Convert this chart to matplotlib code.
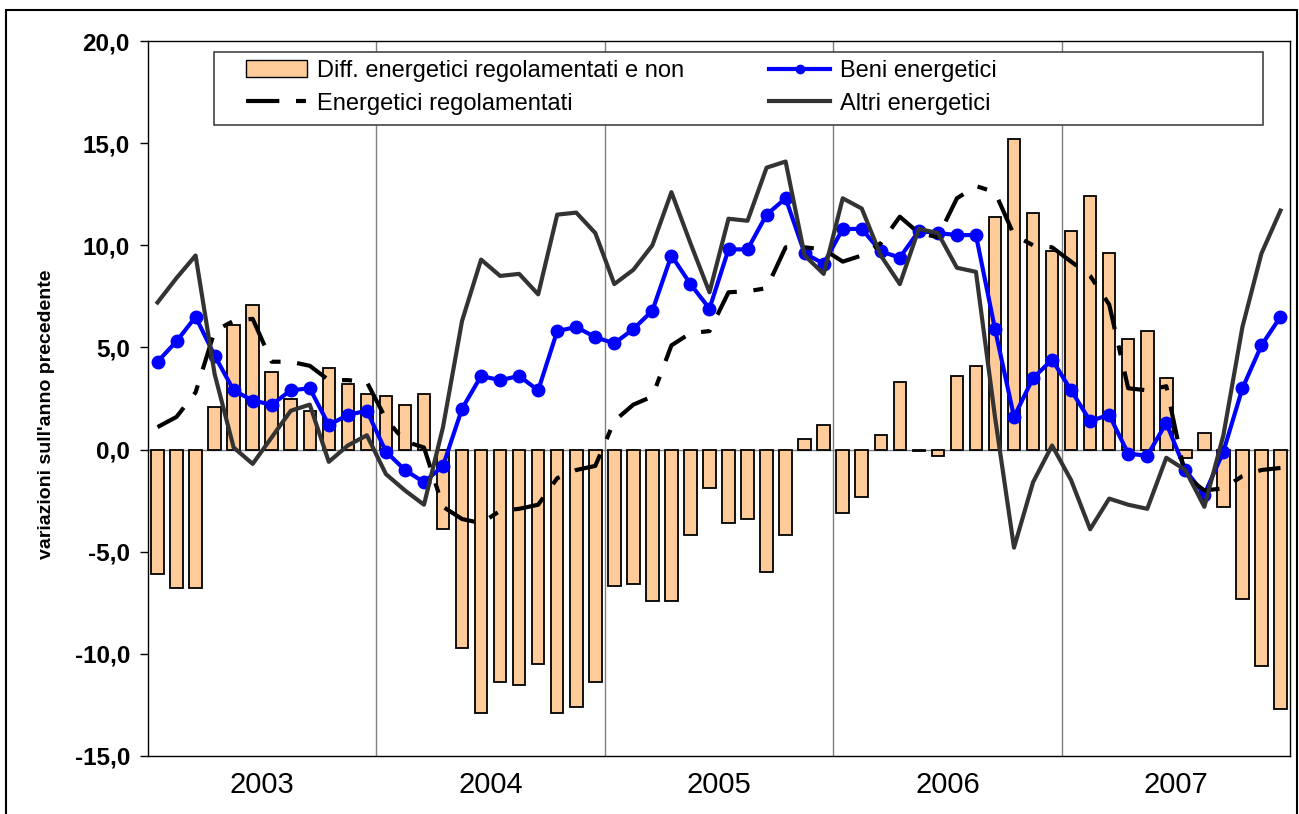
import numpy as np
import matplotlib
matplotlib.use('Agg')
import matplotlib.pyplot as plt
from matplotlib.patches import Rectangle, Patch
from matplotlib.lines import Line2D
from matplotlib.ticker import FuncFormatter, MultipleLocator

plt.rcParams['font.family'] = ['Liberation Sans', 'DejaVu Sans']

years = ['2003', '2004', '2005', '2006', '2007']

# differenza regolamentati - altri (barre), monthly 2003-2007
diff = [-6.1, -6.8, -6.8, 2.1, 6.1, 7.1, 3.8, 2.5, 1.9, 4.0, 3.2, 2.7,
        2.6, 2.2, 2.7, -3.9, -9.7, -12.9, -11.4, -11.5, -10.5, -12.9, -12.6, -11.4,
        -6.7, -6.6, -7.4, -7.4, -4.2, -1.9, -3.6, -3.4, -6.0, -4.2, 0.5, 1.2,
        -3.1, -2.3, 0.7, 3.3, -0.05, -0.3, 3.6, 4.1, 11.4, 15.2, 11.6, 9.7,
        10.7, 12.4, 9.6, 5.4, 5.8, 3.5, -0.4, 0.8, -2.8, -7.3, -10.6, -12.7]

beni = [4.3, 5.3, 6.5, 4.6, 2.9, 2.4, 2.2, 2.9, 3.0, 1.2, 1.7, 1.9,
        -0.1, -1.0, -1.6, -0.8, 2.0, 3.6, 3.4, 3.6, 2.9, 5.8, 6.0, 5.5,
        5.2, 5.9, 6.8, 9.5, 8.1, 6.9, 9.8, 9.8, 11.5, 12.3, 9.6, 9.1,
        10.8, 10.8, 9.7, 9.4, 10.7, 10.6, 10.5, 10.5, 5.9, 1.6, 3.5, 4.4,
        2.9, 1.4, 1.7, -0.2, -0.3, 1.3, -1.0, -2.2, -0.1, 3.0, 5.1, 6.5]

reg = [1.1, 1.6, 2.8, 5.8, 6.3, 6.4, 4.3, 4.3, 4.1, 3.4, 3.4, 3.3,
       1.5, 0.4, 0.1, -2.8, -3.4, -3.6, -3.0, -2.9, -2.7, -1.4, -1.0, -0.8,
       1.4, 2.2, 2.6, 5.1, 5.7, 5.8, 7.7, 7.75, 7.9, 9.9, 9.9, 9.8,
       9.2, 9.5, 10.1, 11.4, 10.6, 10.4, 12.3, 12.9, 12.6, 10.5, 10.0, 9.9,
       9.2, 8.5, 7.1, 3.0, 2.9, 3.1, -1.3, -2.0, -1.9, -1.3, -1.0, -0.9]

altri = [7.2, 8.4, 9.5, 3.7, 0.1, -0.7, 0.6, 1.9, 2.2, -0.6, 0.2, 0.7,
         -1.2, -2.0, -2.7, 1.1, 6.3, 9.3, 8.5, 8.6, 7.6, 11.5, 11.6, 10.6,
         8.1, 8.8, 10.0, 12.6, 10.1, 7.7, 11.3, 11.2, 13.8, 14.1, 9.5, 8.6,
         12.3, 11.8, 9.5, 8.1, 10.8, 10.6, 8.9, 8.7, 1.6, -4.8, -1.6, 0.2,
         -1.5, -3.9, -2.4, -2.7, -2.9, -0.4, -1.0, -2.8, 0.7, 6.0, 9.6, 11.7]

labels = ['Diff. energetici regolamentati e non', 'Energetici regolamentati',
          'Beni energetici', 'Altri energetici']

W, H = 1299, 814
fig = plt.figure(figsize=(W / 100, H / 100), dpi=100)
ax = fig.add_axes([148 / W, 1 - 756 / H, 1142 / W, 715 / H])

x = np.arange(len(diff))
ax.bar(x, diff, width=0.66, color='#FFCC99', edgecolor='black', linewidth=1.3, zorder=2)
ax.plot(x, beni, color='#0000FF', lw=3, marker='o', ms=9, zorder=3)
ax.plot(x, reg, color='black', lw=3, dashes=(8, 4, 2.4, 4), zorder=4)
ax.plot(x, altri, color='#333333', lw=3, zorder=5)

# separatori anni + asse a zero
for b in [11.5, 23.5, 35.5, 47.5]:
    ax.axvline(b, color='#808080', lw=1, zorder=1)
ax.axhline(0, color='#808080', lw=1, zorder=1)

ax.set_xlim(-0.5, 59.5)
ax.set_ylim(-15, 20)
ax.yaxis.set_major_locator(MultipleLocator(5))
ax.yaxis.set_major_formatter(FuncFormatter(lambda v, p: f'{v:.1f}'.replace('.', ',')))
ax.tick_params(axis='y', direction='out', length=6, width=1, labelsize=17.5, pad=7)
for lab in ax.get_yticklabels():
    lab.set_fontweight('bold')
ax.set_xticks([5.5, 17.5, 29.5, 41.5, 53.5])
ax.set_xticklabels(years, fontsize=21)
ax.tick_params(axis='x', length=0, pad=11)
for s in ax.spines.values():
    s.set_color('black')
    s.set_linewidth(1)

# legenda: riquadro a parte, voci senza cornice
ax.add_patch(Rectangle((66 / 1142, (756 - 125) / 715), 1049 / 1142, 73 / 715,
                       transform=ax.transAxes, facecolor='white', edgecolor='#444444',
                       lw=1.2, zorder=6))
handles = [Patch(facecolor='#FFCC99', edgecolor='black'),
           Line2D([], [], color='black', lw=3, dashes=(8, 4, 2.4, 4)),
           Line2D([], [], color='#0000FF', lw=3, marker='o', ms=6),
           Line2D([], [], color='#333333', lw=3)]
leg = ax.legend(handles, labels, loc='upper left', bbox_to_anchor=(98 / 1142, (756 - 60) / 715),
                ncol=2, frameon=False, fontsize=17, handlelength=2.6, handletextpad=0.4,
                columnspacing=3.6, labelspacing=0.45, borderaxespad=0, borderpad=0)
leg.set_zorder(7)

fig.text(47 / W, 1 - 414 / H, "variazioni sull'anno precedente", rotation=90,
         ha='center', va='center', fontsize=14, fontweight='bold')

# cornice esterna del grafico
fig.add_artist(Rectangle((6 / W, -0.05), 1291 / W, 1.05 - 10 / H, transform=fig.transFigure,
                         fill=False, edgecolor='black', lw=1.5))

fig.savefig('out.png', dpi=100)
